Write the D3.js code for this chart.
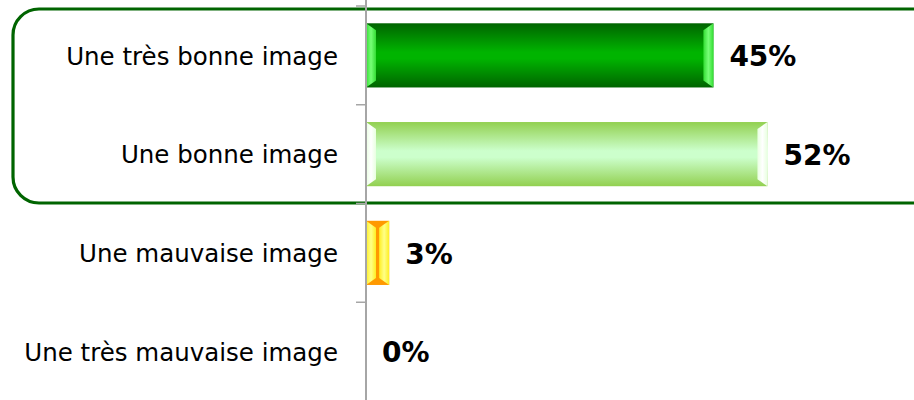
<!DOCTYPE html>
<html>
<head>
<meta charset="utf-8">
<script src="https://cdn.jsdelivr.net/npm/d3@7/dist/d3.min.js"></script>
<style>
  html, body { margin: 0; padding: 0; background: #fff; }
  svg { display: block; }
  text { font-family: "DejaVu Sans", Verdana, sans-serif; }
</style>
</head>
<body>
<svg id="chart" width="914" height="400"></svg>
<script>
// Image perception survey results
const categories = ["Une très bonne image", "Une bonne image", "Une mauvaise image", "Une très mauvaise image"];
const values = [45, 52, 3, 0];
const valueLabels = ["45%", "52%", "3%", "0%"];

// Bevel colours per bar: edge of body, centre of body, end-cap colour, end-cap highlight
const barStyles = [
  { edge: "#006400", mid: "#00b400", cap: "#33dd33", capHi: "#77ff77" },
  { edge: "#92d050", mid: "#ccffcc", cap: "#e8ffe0", capHi: "#ffffff" },
  { edge: "#ff9900", mid: "#ffb000", cap: "#ffee22", capHi: "#ffff88" },
  { edge: "#ff9900", mid: "#ffb000", cap: "#ffee22", capHi: "#ffff88" }
];

const W = 914, H = 400;
const axisX = 366;
const svg = d3.select("#chart");
const defs = svg.append("defs");

const x = d3.scaleLinear().domain([0, 100]).range([axisX, axisX + 772]);
const y = d3.scaleBand().domain(categories).range([6, 401]).paddingInner(0.35).paddingOuter(0.175);

// Highlight frame around the two positive answers
svg.append("rect")
  .attr("x", 13).attr("y", 9)
  .attr("width", 940).attr("height", 194)
  .attr("rx", 26).attr("ry", 26)
  .attr("fill", "none")
  .attr("stroke", "#006400")
  .attr("stroke-width", 3.2);

// Gradients
barStyles.forEach((s, i) => {
  const g = defs.append("linearGradient").attr("id", "body" + i)
    .attr("x1", 0).attr("y1", 0).attr("x2", 0).attr("y2", 1);
  g.append("stop").attr("offset", "0%").attr("stop-color", s.edge);
  g.append("stop").attr("offset", "45%").attr("stop-color", s.mid);
  g.append("stop").attr("offset", "55%").attr("stop-color", s.mid);
  g.append("stop").attr("offset", "100%").attr("stop-color", s.edge);
  const c = defs.append("linearGradient").attr("id", "cap" + i)
    .attr("x1", 0).attr("y1", 0).attr("x2", 1).attr("y2", 0);
  c.append("stop").attr("offset", "0%").attr("stop-color", s.cap);
  c.append("stop").attr("offset", "50%").attr("stop-color", s.capHi);
  c.append("stop").attr("offset", "100%").attr("stop-color", s.cap);
});

const data = categories.map((c, i) => ({ cat: c, v: values[i], label: valueLabels[i], i }));

const bars = svg.append("g").selectAll("g").data(data.filter(d => d.v > 0)).join("g");

bars.append("rect")
  .attr("x", d => x(0))
  .attr("y", d => y(d.cat))
  .attr("width", d => x(d.v) - x(0))
  .attr("height", y.bandwidth())
  .attr("fill", d => d.i === 2 ? barStyles[d.i].edge : `url(#body${d.i})`);

// Bevelled end caps
function capPath(d, side) {
  const x0 = x(0), x1 = x(d.v);
  const y0 = y(d.cat), y1 = y0 + y.bandwidth();
  const b = Math.min(10, (x1 - x0) / 2);
  const inset = 7;
  if (side === "left") {
    return `M${x0},${y0} L${x0 + b},${y0 + inset} L${x0 + b},${y1 - inset} L${x0},${y1} Z`;
  }
  return `M${x1},${y0} L${x1 - b},${y0 + inset} L${x1 - b},${y1 - inset} L${x1},${y1} Z`;
}
bars.append("path").attr("d", d => capPath(d, "left")).attr("fill", d => `url(#cap${d.i})`);
bars.append("path").attr("d", d => capPath(d, "right")).attr("fill", d => `url(#cap${d.i})`);

// Category axis
const axisG = svg.append("g");
axisG.append("line")
  .attr("x1", axisX).attr("x2", axisX)
  .attr("y1", 0).attr("y2", H)
  .attr("stroke", "#a6a6a6").attr("stroke-width", 2);
const tickYs = categories.map(c => y(c) - y.step() * y.paddingInner() / 2).concat([y.range()[1]]);
axisG.selectAll(".tick").data(tickYs).join("line")
  .attr("x1", axisX - 10).attr("x2", axisX)
  .attr("y1", d => d).attr("y2", d => d)
  .attr("stroke", "#a6a6a6").attr("stroke-width", 1.5);

axisG.selectAll(".cat").data(data).join("text")
  .attr("x", 338)
  .attr("y", d => y(d.cat) + y.bandwidth() / 2)
  .attr("dy", "0.38em")
  .attr("text-anchor", "end")
  .attr("font-size", 24.5)
  .attr("fill", "#000")
  .text(d => d.cat);

// Value labels
svg.append("g").selectAll("text").data(data).join("text")
  .attr("x", d => x(d.v) + 16)
  .attr("y", d => y(d.cat) + y.bandwidth() / 2)
  .attr("dy", "0.38em")
  .attr("font-size", 28)
  .attr("font-weight", "bold")
  .attr("fill", "#000")
  .text(d => d.label);
</script>
</body>
</html>
